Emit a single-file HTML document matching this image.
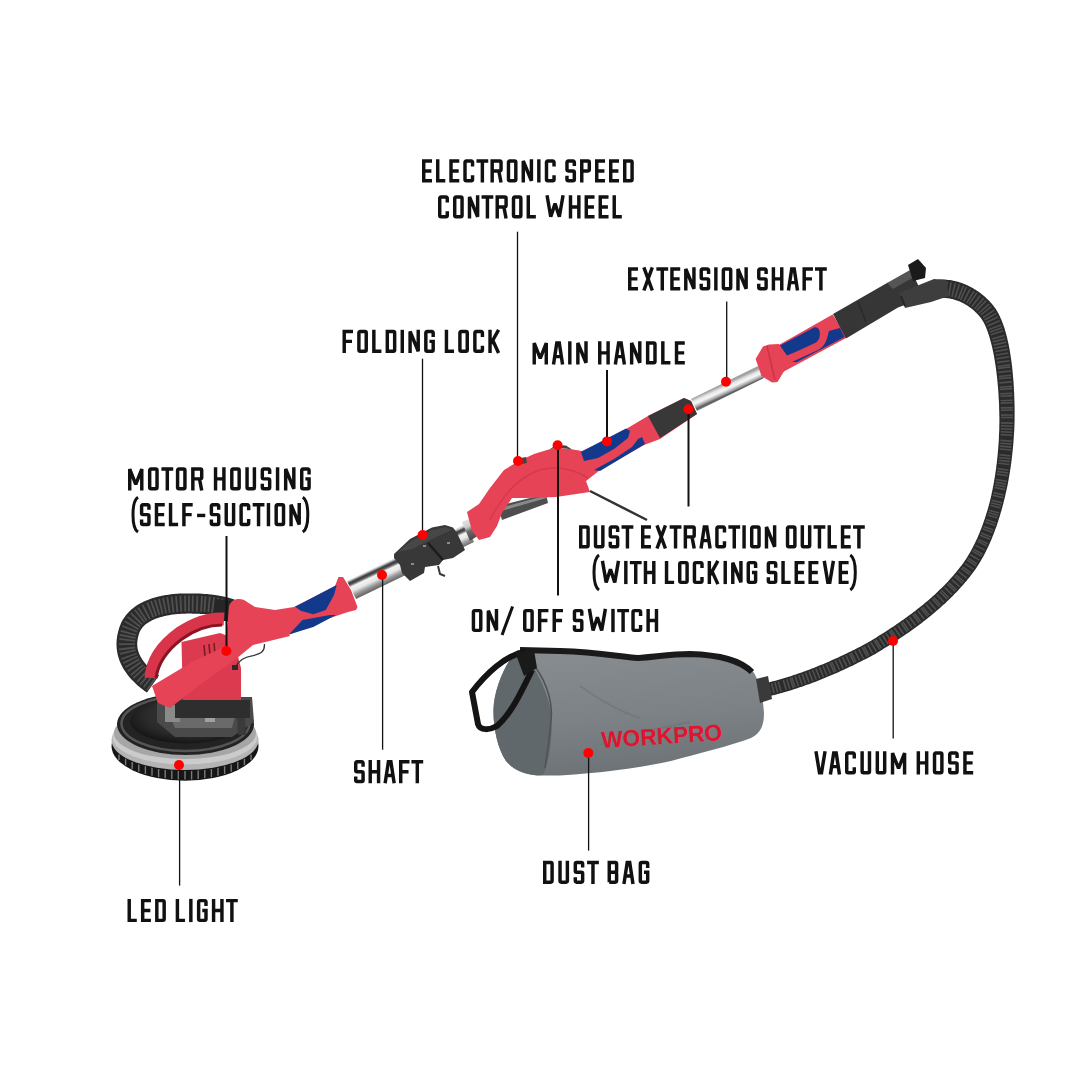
<!DOCTYPE html>
<html><head><meta charset="utf-8"><style>
html,body{margin:0;padding:0;background:#fff;width:1080px;height:1080px;overflow:hidden}
svg{position:absolute;left:0;top:0;display:block}
.lbl path{fill:none;stroke:#111;stroke-width:3.45px;stroke-linecap:butt;stroke-linejoin:miter;stroke-miterlimit:1.5}
.lbl path.thin{stroke-width:3px}
</style></head><body>
<svg width="1080" height="1080" viewBox="0 0 1080 1080">
<defs>
  <linearGradient id="shaftL" gradientUnits="userSpaceOnUse" x1="348" y1="581" x2="356.5" y2="599">
    <stop offset="0" stop-color="#d8d8d8"/>
    <stop offset="0.12" stop-color="#3a3a3a"/>
    <stop offset="0.22" stop-color="#5a5a5a"/>
    <stop offset="0.34" stop-color="#f4f4f4"/>
    <stop offset="0.55" stop-color="#e6e6e6"/>
    <stop offset="0.75" stop-color="#9a9a9a"/>
    <stop offset="1" stop-color="#5e5e5e"/>
  </linearGradient>
  <linearGradient id="shaftM" gradientUnits="userSpaceOnUse" x1="470" y1="519" x2="478" y2="537">
    <stop offset="0" stop-color="#e0e0e0"/>
    <stop offset="0.3" stop-color="#cfcfcf"/>
    <stop offset="0.55" stop-color="#6a6a6a"/>
    <stop offset="1" stop-color="#4a4a4a"/>
  </linearGradient>
  <linearGradient id="shaftE" gradientUnits="userSpaceOnUse" x1="691" y1="399" x2="696.5" y2="411">
    <stop offset="0" stop-color="#a0a0a0"/>
    <stop offset="0.25" stop-color="#e8e8e8"/>
    <stop offset="0.45" stop-color="#f6f6f6"/>
    <stop offset="0.7" stop-color="#a4a4a4"/>
    <stop offset="0.85" stop-color="#5a5a5a"/>
    <stop offset="1" stop-color="#8a8a8a"/>
  </linearGradient>
  <linearGradient id="bagG" gradientUnits="userSpaceOnUse" x1="600" y1="655" x2="610" y2="775">
    <stop offset="0" stop-color="#858b8e"/>
    <stop offset="0.55" stop-color="#7b8184"/>
    <stop offset="1" stop-color="#6c7275"/>
  </linearGradient>
  <radialGradient id="headTop" cx="0.55" cy="0.4" r="0.6">
    <stop offset="0" stop-color="#3e3e3e"/>
    <stop offset="0.7" stop-color="#2a2a2a"/>
    <stop offset="1" stop-color="#161616"/>
  </radialGradient>
</defs>
<g id="product">
  <!-- vacuum hose -->
<path d="M 938.9 298.2 L 939.7 298.1 L 940.4 298.1 L 941.1 298.0 L 941.8 298.0 L 942.6 298.0 L 943.3 297.9 L 944.0 298.0 L 944.7 298.0 L 945.5 298.0 L 946.2 298.1 L 947.0 298.2 L 947.7 298.2 L 948.4 298.3 L 949.2 298.5 L 950.0 298.6 L 950.7 298.7 L 951.5 298.9 L 952.2 299.1 L 953.0 299.3 L 953.7 299.5 L 954.5 299.7 L 955.3 299.9 L 956.0 300.2 L 956.8 300.4 L 957.6 300.7 L 958.3 301.0 L 959.1 301.3 L 959.8 301.6 L 960.6 302.0 L 961.3 302.3 L 962.1 302.7 L 962.8 303.1 L 963.6 303.4 L 964.3 303.8 L 965.0 304.3 L 965.8 304.7 L 966.5 305.1 L 967.2 305.6 L 967.9 306.0 L 968.6 306.5 L 969.3 307.0 L 970.0 307.5 L 970.7 308.0 L 971.4 308.5 L 972.1 309.0 L 972.7 309.6 L 973.4 310.1 L 974.0 310.7 L 974.7 311.3 L 975.3 311.9 L 975.9 312.4 L 976.5 313.1 L 977.1 313.7 L 977.7 314.3 L 978.3 314.9 L 978.9 315.6 L 979.4 316.2 L 980.0 316.9 L 980.5 317.5 L 981.0 318.1 L 981.4 318.7 L 981.9 319.4 L 982.3 320.2 L 982.8 321.0 L 983.3 321.8 L 983.8 322.7 L 984.3 323.6 L 984.7 324.6 L 985.2 325.6 L 985.7 326.7 L 986.2 327.8 L 986.6 328.9 L 987.1 330.1 L 987.5 331.3 L 988.0 332.6 L 988.4 333.9 L 988.9 335.2 L 989.3 336.6 L 989.7 338.0 L 990.1 339.4 L 990.5 340.9 L 991.0 342.4 L 991.3 343.9 L 991.7 345.5 L 992.1 347.1 L 992.5 348.7 L 992.8 350.4 L 993.2 352.1 L 993.5 353.8 L 993.9 355.6 L 994.2 357.3 L 994.5 359.2 L 994.8 361.0 L 995.1 362.9 L 995.4 364.8 L 995.7 366.7 L 996.0 368.7 L 996.2 370.6 L 996.5 372.6 L 996.7 374.7 L 997.0 376.7 L 997.2 378.8 L 997.4 380.9 L 997.6 383.0 L 997.8 385.2 L 998.0 387.4 L 998.2 389.6 L 998.3 391.8 L 998.5 394.0 L 998.6 396.3 L 998.7 398.6 L 998.9 400.9 L 999.0 403.2 L 999.1 405.5 L 999.1 407.9 L 999.2 410.3 L 999.3 412.7 L 999.3 415.1 L 999.4 417.5 L 999.4 419.9 L 999.4 422.8 L 999.3 425.7 L 999.3 428.7 L 999.2 431.6 L 999.0 434.5 L 998.9 437.4 L 998.8 440.3 L 998.6 443.1 L 998.4 446.0 L 998.2 448.8 L 997.9 451.7 L 997.7 454.5 L 997.4 457.3 L 997.1 460.1 L 996.8 462.9 L 996.4 465.6 L 996.1 468.4 L 995.7 471.1 L 995.3 473.8 L 994.9 476.5 L 994.4 479.2 L 994.0 481.9 L 993.5 484.5 L 993.0 487.1 L 992.5 489.7 L 991.9 492.3 L 991.4 494.9 L 990.8 497.4 L 990.2 499.9 L 989.6 502.4 L 988.9 504.9 L 988.3 507.3 L 987.6 509.7 L 986.9 512.1 L 986.1 514.5 L 985.4 516.8 L 984.6 519.2 L 983.8 521.5 L 983.0 523.7 L 982.2 525.9 L 981.4 528.2 L 980.5 530.3 L 979.7 532.5 L 978.8 534.6 L 977.9 536.7 L 977.0 538.7 L 976.0 540.8 L 975.1 542.8 L 974.1 544.7 L 973.2 546.6 L 972.2 548.5 L 971.1 550.4 L 970.1 552.2 L 969.1 554.0 L 968.0 555.8 L 967.0 557.5 L 965.9 559.2 L 964.8 560.8 L 963.7 562.5 L 962.6 564.0 L 961.3 565.7 L 960.0 567.3 L 958.7 569.0 L 957.4 570.6 L 956.1 572.2 L 954.7 573.8 L 953.4 575.4 L 952.0 577.0 L 950.6 578.6 L 949.2 580.1 L 947.8 581.7 L 946.3 583.2 L 944.9 584.7 L 943.4 586.2 L 941.9 587.7 L 940.4 589.1 L 938.9 590.6 L 937.4 592.0 L 935.9 593.5 L 934.3 594.9 L 932.8 596.3 L 931.2 597.7 L 929.7 599.0 L 928.1 600.4 L 926.5 601.7 L 924.9 603.1 L 923.3 604.4 L 921.7 605.7 L 920.1 607.0 L 918.4 608.3 L 916.8 609.6 L 915.2 610.9 L 913.5 612.1 L 911.9 613.4 L 910.2 614.6 L 908.6 615.8 L 906.9 617.1 L 905.2 618.3 L 903.6 619.4 L 901.9 620.6 L 900.2 621.8 L 898.5 623.0 L 896.9 624.1 L 895.2 625.2 L 893.5 626.4 L 891.8 627.5 L 890.1 628.6 L 888.5 629.7 L 886.8 630.8 L 885.1 631.9 L 883.4 633.0 L 881.8 634.0 L 880.1 635.1 L 878.4 636.1 L 876.8 637.2 L 875.1 638.2 L 873.4 639.2 L 871.8 640.2 L 870.1 641.2 L 868.7 642.1 L 867.0 643.0 L 865.1 644.0 L 863.3 645.0 L 861.5 645.9 L 859.7 646.9 L 857.9 647.8 L 856.1 648.7 L 854.3 649.7 L 852.5 650.6 L 850.7 651.5 L 848.9 652.3 L 847.1 653.2 L 845.3 654.1 L 843.5 654.9 L 841.7 655.8 L 840.0 656.6 L 838.2 657.4 L 836.4 658.2 L 834.6 659.0 L 832.9 659.8 L 831.1 660.6 L 829.4 661.4 L 827.6 662.2 L 825.8 662.9 L 824.1 663.7 L 822.3 664.4 L 820.6 665.1 L 818.9 665.8 L 817.1 666.5 L 815.4 667.2 L 813.7 667.9 L 811.9 668.6 L 810.2 669.2 L 808.5 669.9 L 806.7 670.5 L 805.0 671.2 L 803.3 671.8 L 801.6 672.4 L 799.9 673.0 L 798.2 673.6 L 796.5 674.2 L 794.8 674.8 L 793.1 675.3 L 791.4 675.9 L 789.7 676.4 L 788.0 677.0 L 786.3 677.5 L 784.6 678.0 L 782.9 678.5 L 781.2 679.0 L 779.5 679.5 L 777.8 680.0 L 776.2 680.4 L 774.5 680.9 L 772.8 681.3 L 771.1 681.8 L 769.5 682.2 L 767.8 682.6 L 766.1 683.0 L 764.4 683.4 L 767.6 696.6 L 769.3 696.2 L 771.0 695.7 L 772.8 695.3 L 774.5 694.9 L 776.2 694.4 L 778.0 693.9 L 779.7 693.5 L 781.5 693.0 L 783.2 692.5 L 785.0 692.0 L 786.7 691.5 L 788.5 690.9 L 790.2 690.4 L 792.0 689.9 L 793.8 689.3 L 795.5 688.7 L 797.3 688.2 L 799.0 687.6 L 800.8 687.0 L 802.6 686.4 L 804.3 685.8 L 806.1 685.1 L 807.9 684.5 L 809.7 683.9 L 811.4 683.2 L 813.2 682.5 L 815.0 681.9 L 816.8 681.2 L 818.6 680.5 L 820.4 679.8 L 822.2 679.1 L 824.0 678.3 L 825.7 677.6 L 827.5 676.8 L 829.3 676.1 L 831.1 675.3 L 833.0 674.6 L 834.8 673.8 L 836.6 673.0 L 838.4 672.2 L 840.2 671.3 L 842.0 670.5 L 843.8 669.7 L 845.7 668.8 L 847.5 668.0 L 849.3 667.1 L 851.1 666.2 L 853.0 665.4 L 854.8 664.5 L 856.7 663.5 L 858.5 662.6 L 860.3 661.7 L 862.2 660.8 L 864.0 659.8 L 865.9 658.9 L 867.8 657.9 L 869.6 656.9 L 871.5 655.9 L 873.3 654.9 L 875.3 653.9 L 877.2 652.8 L 878.8 651.7 L 880.5 650.7 L 882.2 649.7 L 883.9 648.6 L 885.6 647.6 L 887.3 646.5 L 889.0 645.4 L 890.7 644.3 L 892.4 643.2 L 894.1 642.1 L 895.9 641.0 L 897.6 639.9 L 899.3 638.7 L 901.0 637.6 L 902.7 636.4 L 904.5 635.3 L 906.2 634.1 L 907.9 632.9 L 909.7 631.7 L 911.4 630.5 L 913.1 629.2 L 914.8 628.0 L 916.6 626.7 L 918.3 625.5 L 920.0 624.2 L 921.7 622.9 L 923.4 621.6 L 925.1 620.3 L 926.8 618.9 L 928.5 617.6 L 930.2 616.2 L 931.9 614.8 L 933.5 613.5 L 935.2 612.1 L 936.9 610.6 L 938.5 609.2 L 940.2 607.8 L 941.8 606.3 L 943.4 604.8 L 945.1 603.4 L 946.7 601.8 L 948.3 600.3 L 949.8 598.8 L 951.4 597.2 L 953.0 595.7 L 954.5 594.1 L 956.1 592.5 L 957.6 590.9 L 959.1 589.3 L 960.6 587.6 L 962.1 585.9 L 963.6 584.3 L 965.0 582.6 L 966.5 580.9 L 967.9 579.1 L 969.3 577.4 L 970.7 575.6 L 972.1 573.8 L 973.4 572.0 L 974.7 570.2 L 976.0 568.4 L 977.2 566.6 L 978.4 564.7 L 979.6 562.8 L 980.7 560.9 L 981.8 558.9 L 983.0 556.9 L 984.1 554.9 L 985.2 552.8 L 986.2 550.8 L 987.3 548.6 L 988.3 546.5 L 989.3 544.3 L 990.3 542.1 L 991.2 539.9 L 992.2 537.6 L 993.1 535.3 L 994.0 533.0 L 994.9 530.6 L 995.7 528.3 L 996.6 525.9 L 997.4 523.5 L 998.2 521.0 L 999.0 518.5 L 999.8 516.0 L 1000.5 513.5 L 1001.3 511.0 L 1002.0 508.4 L 1002.7 505.8 L 1003.4 503.2 L 1004.0 500.6 L 1004.7 498.0 L 1005.3 495.3 L 1005.9 492.6 L 1006.5 489.9 L 1007.1 487.2 L 1007.7 484.4 L 1008.2 481.7 L 1008.7 478.9 L 1009.2 476.1 L 1009.7 473.3 L 1010.1 470.4 L 1010.6 467.6 L 1011.0 464.7 L 1011.4 461.8 L 1011.7 458.9 L 1012.1 456.0 L 1012.4 453.1 L 1012.7 450.2 L 1013.0 447.2 L 1013.3 444.2 L 1013.5 441.3 L 1013.7 438.3 L 1013.9 435.3 L 1014.1 432.3 L 1014.3 429.2 L 1014.4 426.2 L 1014.5 423.2 L 1014.6 420.1 L 1014.6 417.5 L 1014.6 415.0 L 1014.6 412.5 L 1014.6 410.0 L 1014.6 407.5 L 1014.5 405.1 L 1014.5 402.7 L 1014.4 400.3 L 1014.3 397.9 L 1014.2 395.5 L 1014.2 393.2 L 1014.0 390.8 L 1013.9 388.5 L 1013.8 386.2 L 1013.6 384.0 L 1013.5 381.7 L 1013.3 379.5 L 1013.1 377.3 L 1012.9 375.1 L 1012.7 373.0 L 1012.5 370.8 L 1012.3 368.7 L 1012.1 366.6 L 1011.8 364.6 L 1011.6 362.5 L 1011.3 360.5 L 1011.0 358.5 L 1010.7 356.5 L 1010.4 354.6 L 1010.1 352.7 L 1009.8 350.8 L 1009.5 348.9 L 1009.1 347.1 L 1008.8 345.3 L 1008.4 343.5 L 1008.0 341.7 L 1007.6 340.0 L 1007.2 338.3 L 1006.8 336.6 L 1006.4 335.0 L 1005.9 333.3 L 1005.5 331.7 L 1005.0 330.2 L 1004.6 328.6 L 1004.1 327.1 L 1003.6 325.7 L 1003.1 324.2 L 1002.5 322.8 L 1002.0 321.4 L 1001.5 320.0 L 1000.9 318.7 L 1000.3 317.4 L 999.7 316.1 L 999.1 314.9 L 998.5 313.6 L 997.8 312.4 L 997.2 311.3 L 996.5 310.2 L 995.8 309.1 L 995.0 307.9 L 994.3 306.9 L 993.6 306.0 L 992.8 305.1 L 992.1 304.2 L 991.4 303.3 L 990.6 302.5 L 989.8 301.6 L 989.1 300.8 L 988.3 300.0 L 987.5 299.2 L 986.6 298.4 L 985.8 297.6 L 985.0 296.9 L 984.1 296.1 L 983.3 295.4 L 982.4 294.7 L 981.5 294.0 L 980.6 293.3 L 979.7 292.6 L 978.8 291.9 L 977.9 291.3 L 976.9 290.7 L 976.0 290.1 L 975.0 289.5 L 974.1 288.9 L 973.1 288.3 L 972.1 287.7 L 971.2 287.2 L 970.2 286.7 L 969.2 286.2 L 968.2 285.7 L 967.2 285.2 L 966.1 284.8 L 965.1 284.3 L 964.1 283.9 L 963.0 283.5 L 962.0 283.1 L 961.0 282.8 L 959.9 282.4 L 958.8 282.1 L 957.8 281.8 L 956.7 281.5 L 955.6 281.2 L 954.6 280.9 L 953.5 280.7 L 952.4 280.5 L 951.3 280.3 L 950.2 280.1 L 949.1 280.0 L 948.0 279.9 L 946.9 279.7 L 945.8 279.7 L 944.7 279.6 L 943.6 279.6 L 942.5 279.5 L 941.4 279.5 L 940.3 279.6 L 939.2 279.6 L 938.1 279.7 L 937.1 279.8 Z" fill="#2b2b2b"/>
<path d="M 939.5 296.1 L 938.3 281.7 M 942.6 295.9 L 942.5 281.6 M 945.6 296.0 L 946.8 281.8 M 948.8 296.4 L 951.0 282.3 M 951.9 297.0 L 955.2 283.1 M 955.1 297.8 L 959.3 284.3 M 958.3 298.9 L 963.4 285.8 M 960.6 299.8 L 966.3 287.0 M 963.7 301.3 L 970.2 288.9 M 966.8 303.0 L 974.0 291.1 M 969.0 304.4 L 976.8 292.9 M 971.9 306.4 L 980.3 295.5 M 974.7 308.7 L 983.7 298.3 M 976.6 310.5 L 986.1 300.6 M 979.1 313.0 L 989.2 303.8 M 980.9 315.0 L 991.4 306.3 M 983.0 317.6 L 994.2 310.1 M 984.5 320.0 L 996.2 313.4 M 986.0 322.8 L 998.0 316.9 M 987.4 326.0 L 999.7 320.8 M 988.8 329.5 L 1001.3 324.9 M 989.8 332.0 L 1002.3 327.7 M 990.6 334.7 L 1003.3 330.7 M 991.9 338.9 L 1004.6 335.5 M 992.7 341.9 L 1005.4 338.7 M 993.5 345.1 L 1006.2 342.1 M 994.3 348.3 L 1007.0 345.7 M 995.0 351.7 L 1007.7 349.3 M 995.7 355.2 L 1008.3 353.0 M 996.3 358.9 L 1009.0 356.8 M 996.9 362.6 L 1009.5 360.8 M 997.5 366.5 L 1010.1 364.8 M 997.7 368.4 L 1010.3 366.9 M 998.3 372.4 L 1010.8 371.0 M 998.7 376.5 L 1011.2 375.3 M 998.9 378.6 L 1011.4 377.5 M 999.4 382.9 L 1011.7 381.9 M 999.7 387.2 L 1012.0 386.4 M 999.9 389.4 L 1012.2 388.6 M 1000.2 393.9 L 1012.4 393.3 M 1000.3 396.2 L 1012.5 395.6 M 1000.6 400.8 L 1012.7 400.3 M 1000.7 403.1 L 1012.8 402.7 M 1000.8 407.9 L 1012.9 407.6 M 1000.9 410.3 L 1012.9 410.0 M 1001.0 415.1 L 1012.9 415.0 M 1001.1 417.5 L 1012.9 417.5 M 1001.0 422.9 L 1012.8 423.1 M 1001.0 425.8 L 1012.7 426.2 M 1000.9 428.7 L 1012.6 429.2 M 1000.8 431.7 L 1012.5 432.2 M 1000.7 434.6 L 1012.3 435.2 M 1000.4 440.4 L 1011.9 441.2 M 1000.2 443.3 L 1011.6 444.1 M 1000.0 446.1 L 1011.4 447.1 M 999.8 449.0 L 1011.1 450.0 M 999.2 454.7 L 1010.5 455.9 M 999.0 457.5 L 1010.1 458.8 M 998.6 460.3 L 1009.8 461.6 M 998.3 463.1 L 1009.4 464.5 M 997.6 468.6 L 1008.6 470.2 M 997.2 471.4 L 1008.1 473.0 M 996.8 474.1 L 1007.7 475.8 M 995.9 479.5 L 1006.7 481.4 M 995.5 482.1 L 1006.1 484.1 M 995.0 484.8 L 1005.6 486.9 M 994.5 487.4 L 1005.0 489.6 M 993.4 492.6 L 1003.8 495.0 M 992.8 495.2 L 1003.2 497.6 M 991.6 500.3 L 1001.9 502.9 M 991.0 502.8 L 1001.2 505.5 M 990.4 505.3 L 1000.5 508.0 M 989.0 510.2 L 999.1 513.1 M 988.3 512.6 L 998.4 515.6 M 987.6 514.9 L 997.6 518.1 M 986.0 519.6 L 996.0 523.0 M 985.2 521.9 L 995.2 525.4 M 983.6 526.5 L 993.5 530.1 M 982.8 528.7 L 992.6 532.5 M 981.1 533.0 L 990.8 537.0 M 980.2 535.2 L 989.9 539.3 M 978.3 539.4 L 987.9 543.7 M 977.4 541.4 L 986.9 545.9 M 975.5 545.4 L 984.9 550.1 M 973.5 549.2 L 982.8 554.2 M 972.4 551.1 L 981.7 556.2 M 970.4 554.8 L 979.4 560.1 M 968.2 558.3 L 977.1 563.9 M 967.1 560.0 L 975.9 565.8 M 964.9 563.3 L 973.5 569.4 M 962.5 566.6 L 970.9 572.9 M 961.2 568.2 L 969.5 574.7 M 958.6 571.5 L 966.7 578.2 M 955.9 574.8 L 963.9 581.6 M 954.5 576.4 L 962.5 583.3 M 951.7 579.6 L 959.5 586.6 M 948.8 582.7 L 956.5 589.9 M 947.4 584.2 L 955.0 591.5 M 944.5 587.2 L 951.9 594.6 M 941.5 590.2 L 948.8 597.7 M 939.9 591.7 L 947.2 599.3 M 936.9 594.5 L 944.0 602.3 M 933.8 597.4 L 940.8 605.2 M 932.2 598.8 L 939.2 606.7 M 929.1 601.5 L 935.9 609.5 M 925.9 604.2 L 932.6 612.3 M 922.6 606.9 L 929.3 615.1 M 921.0 608.2 L 927.6 616.4 M 917.7 610.8 L 924.2 619.1 M 914.4 613.3 L 920.8 621.7 M 912.8 614.6 L 919.1 623.0 M 909.4 617.0 L 915.7 625.5 M 906.1 619.5 L 912.2 628.0 M 902.8 621.8 L 908.8 630.5 M 901.1 623.0 L 907.1 631.7 M 897.7 625.3 L 903.6 634.0 M 894.3 627.6 L 900.2 636.4 M 891.0 629.8 L 896.8 638.6 M 889.3 631.0 L 895.0 639.8 M 885.9 633.1 L 891.6 642.0 M 882.6 635.3 L 888.2 644.2 M 879.2 637.4 L 884.8 646.3 M 875.9 639.5 L 881.4 648.4 M 874.2 640.5 L 879.7 649.4 M 870.9 642.5 L 876.4 651.5 M 867.7 644.4 L 872.6 653.6 M 864.0 646.3 L 868.9 655.6 M 862.2 647.3 L 867.1 656.6 M 858.6 649.1 L 863.4 658.5 M 854.9 651.0 L 859.7 660.4 M 851.3 652.8 L 856.0 662.2 M 849.5 653.7 L 854.2 663.1 M 845.9 655.4 L 850.5 664.9 M 842.4 657.1 L 846.9 666.6 M 838.8 658.8 L 843.2 668.3 M 835.3 660.4 L 839.6 670.0 M 831.7 662.0 L 836.0 671.6 M 829.9 662.8 L 834.2 672.4 M 826.4 664.3 L 830.6 674.0 M 822.9 665.8 L 827.0 675.5 M 819.4 667.2 L 823.4 677.0 M 815.9 668.6 L 819.8 678.4 M 812.5 670.0 L 816.3 679.8 M 809.0 671.3 L 812.7 681.1 M 805.5 672.6 L 809.2 682.5 M 802.1 673.8 L 805.6 683.7 M 798.7 675.0 L 802.1 685.0 M 795.2 676.2 L 798.6 686.2 M 791.8 677.3 L 795.1 687.3 M 790.1 677.9 L 793.3 687.9 M 786.7 678.9 L 789.8 689.0 M 783.3 679.9 L 786.3 690.0 M 778.2 681.4 L 781.1 691.5 M 774.9 682.3 L 777.6 692.5 M 771.5 683.2 L 774.1 693.4 M 768.1 684.1 L 770.7 694.3" stroke="#505050" stroke-width="1.6" fill="none"/>
  <!-- dust bag -->
  <path d="M 518 650 L 560 649 C 600 650 620 655 638 656 C 655 655 670 652 690 652 C 720 653 740 657 751 669 C 758 676 763 695 764 713 C 764 725 761 733 751 738 C 730 746 700 753 671 761 C 640 768 600 773 560 775.5 L 543 775.5 C 530 776 515 772 506 761 C 497 748 493 725 493.5 709 C 494 690 505 662 518 650 Z" fill="url(#bagG)"/>
  <path d="M 518 650 C 530 655 548 690 551 712 C 553 735 550 760 543 775 C 530 776 515 772 506 761 C 497 748 493 725 493.5 709 C 494 690 505 662 518 650 Z" fill="#61686b"/>
  <path d="M 536 668 C 548 685 553 705 551 720 C 549 745 546 760 545 768" fill="none" stroke="#4c5256" stroke-width="1.5"/>
  <path d="M 580 686 C 600 700 620 712 640 718 M 600 745 C 625 735 650 730 690 722" fill="none" stroke="#6e7477" stroke-width="2" opacity="0.6"/>
  <path d="M 520 650 L 560 651 C 600 652 620 657 638 658 C 655 657 670 654 690 654 C 720 655 740 660 752 672" stroke="#1a1a1a" stroke-width="6" fill="none"/>
  <!-- strap -->
  <path d="M 525 652 C 505 655 485 675 472 692 L 478 724 C 480 731 490 730 497 726 C 510 715 520 695 532 670" fill="none" stroke="#141414" stroke-width="6" stroke-linejoin="round"/>
  <path d="M 515 652 L 534 650 L 537 668 L 524 676 Z" fill="#1a1a1a"/>
  <text x="602" y="748" transform="rotate(-3.8 602 748)" font-family="Liberation Sans" font-weight="bold" font-size="23" fill="#e0142f" textLength="121" lengthAdjust="spacingAndGlyphs">WORKPRO</text>
  <!-- hose connector at bag -->
  <path d="M 756 679 L 768 676 L 772 699 L 760 703 Z" fill="#3a3a3a"/>

  <!-- sanding head -->
  <ellipse cx="185" cy="745.9" rx="73.5" ry="34.8" fill="#161616"/>
  <path d="M 119.0 754.4 L 119.0 760.0 M 125.6 758.8 L 125.6 765.2 M 132.2 762.0 L 132.2 768.9 M 138.8 764.4 L 138.8 771.8 M 145.4 766.3 L 145.4 774.0 M 152.0 767.8 L 152.0 775.8 M 158.6 769.0 L 158.6 777.2 M 165.2 769.9 L 165.2 778.2 M 171.8 770.5 L 171.8 778.9 M 178.4 770.9 L 178.4 779.4 M 185.0 771.0 L 185.0 779.5 M 191.6 770.9 L 191.6 779.4 M 198.2 770.5 L 198.2 778.9 M 204.8 769.9 L 204.8 778.2 M 211.4 769.0 L 211.4 777.2 M 218.0 767.8 L 218.0 775.8 M 224.6 766.3 L 224.6 774.0 M 231.2 764.4 L 231.2 771.8 M 237.8 762.0 L 237.8 768.9 M 244.4 758.8 L 244.4 765.2 M 251.0 754.4 L 251.0 760.0" stroke="#7a7a7a" stroke-width="1.4"/>
  <ellipse cx="185" cy="740.3" rx="73.5" ry="29.7" fill="#b4b4b4"/>
  <ellipse cx="185" cy="737" rx="72.5" ry="27.5" fill="#cbcbcb"/>
  <ellipse cx="185" cy="733" rx="71" ry="26" fill="#a6a6a6"/>
  <ellipse cx="185.5" cy="724.25" rx="68.5" ry="30.75" fill="#232323"/>
  <ellipse cx="185.5" cy="723.5" rx="64" ry="27.5" fill="none" stroke="#555" stroke-width="2.5"/>
  <ellipse cx="187" cy="721" rx="57" ry="22.5" fill="url(#headTop)"/>
  <path d="M 157 697 L 252 697 L 254 722 L 232 737 L 175 737 L 157 722 Z" fill="#4a4a4a"/>
  <path d="M 170 716 L 235 716 L 232 728 L 175 728 Z" fill="#6a6a6a"/>
  <path d="M 165 705 L 180 705 L 180 722 L 165 722 Z" fill="#8a8a8a"/>
  <path d="M 205 715 L 215 715 L 215 722 L 205 722 Z" fill="#a0a0a0"/>
  <path d="M 236 700 L 244 700 L 246 735 L 238 735 Z" fill="#3a3a3a"/>

  <!-- hose loop -->
<path d="M 159.0 675.4 L 157.9 674.6 L 156.8 673.9 L 155.9 673.2 L 154.9 672.5 L 154.0 671.7 L 153.1 671.0 L 152.2 670.3 L 151.4 669.6 L 150.6 668.9 L 149.8 668.2 L 149.0 667.5 L 148.3 666.8 L 147.6 666.1 L 147.0 665.4 L 146.3 664.7 L 145.7 664.0 L 145.1 663.3 L 144.5 662.6 L 144.0 661.9 L 143.5 661.2 L 143.0 660.6 L 142.5 659.9 L 142.1 659.2 L 141.7 658.6 L 141.3 657.9 L 140.9 657.3 L 140.5 656.6 L 140.2 656.0 L 139.9 655.3 L 139.6 654.7 L 139.3 654.0 L 139.0 653.4 L 138.8 652.8 L 138.6 652.1 L 138.4 651.5 L 138.2 650.9 L 138.0 650.3 L 137.9 649.7 L 137.7 649.0 L 137.6 648.4 L 137.5 647.8 L 137.4 647.2 L 137.4 646.6 L 137.3 646.0 L 137.3 645.3 L 137.2 644.7 L 137.2 644.1 L 137.2 643.5 L 137.2 642.9 L 137.3 642.3 L 137.3 641.6 L 137.4 641.0 L 137.5 640.4 L 137.6 639.8 L 137.7 639.1 L 137.8 638.5 L 137.9 637.8 L 138.1 637.2 L 138.2 636.6 L 138.5 635.7 L 138.7 634.7 L 138.9 634.0 L 139.1 633.4 L 139.4 632.8 L 139.6 632.1 L 139.9 631.5 L 140.2 631.0 L 140.5 630.4 L 140.8 629.8 L 141.2 629.3 L 141.6 628.7 L 142.0 628.2 L 142.4 627.6 L 142.8 627.1 L 143.3 626.6 L 143.8 626.1 L 144.3 625.6 L 144.9 625.1 L 145.4 624.6 L 146.0 624.1 L 146.7 623.6 L 147.3 623.2 L 148.0 622.7 L 148.7 622.3 L 149.4 621.8 L 150.2 621.4 L 150.9 620.9 L 151.7 620.5 L 152.6 620.1 L 153.4 619.7 L 154.3 619.3 L 155.2 619.0 L 156.1 618.6 L 157.1 618.3 L 158.1 617.9 L 159.1 617.6 L 160.1 617.3 L 161.1 617.0 L 162.2 616.7 L 163.2 616.4 L 164.3 616.1 L 165.5 615.9 L 166.6 615.6 L 167.7 615.4 L 168.9 615.2 L 170.1 615.0 L 171.3 614.8 L 172.5 614.6 L 173.7 614.5 L 175.0 614.3 L 176.2 614.2 L 177.5 614.1 L 178.8 614.0 L 180.0 613.9 L 181.4 613.8 L 182.7 613.8 L 184.0 613.7 L 185.3 613.7 L 186.7 613.6 L 188.0 613.6 L 188.9 613.6 L 189.8 613.6 L 190.7 613.6 L 191.6 613.6 L 192.5 613.7 L 193.4 613.7 L 194.3 613.7 L 195.1 613.7 L 196.0 613.7 L 196.8 613.7 L 197.7 613.8 L 198.5 613.8 L 199.4 613.8 L 200.2 613.9 L 201.0 613.9 L 201.8 614.0 L 202.6 614.0 L 203.4 614.1 L 204.2 614.1 L 205.0 614.2 L 205.7 614.2 L 206.5 614.3 L 207.3 614.4 L 208.0 614.4 L 208.8 614.5 L 209.5 614.6 L 210.3 614.7 L 211.0 614.8 L 211.7 614.9 L 212.5 615.0 L 213.2 615.1 L 213.9 615.2 L 214.6 615.3 L 215.3 615.4 L 216.0 615.5 L 216.7 615.6 L 217.4 615.8 L 218.0 615.9 L 218.7 616.0 L 219.4 616.2 L 220.0 616.3 L 220.7 616.5 L 221.4 616.7 L 222.0 616.8 L 222.7 617.0 L 223.3 617.2 L 224.0 617.3 L 224.6 617.5 L 225.2 617.7 L 225.9 617.9 L 226.5 618.1 L 227.1 618.3 L 227.7 618.5 L 228.4 618.8 L 229.0 619.0 L 229.6 619.2 L 230.2 619.4 L 230.8 619.7 L 231.5 619.9 L 232.1 620.2 L 239.9 601.8 L 239.1 601.5 L 238.4 601.1 L 237.6 600.8 L 236.8 600.5 L 236.0 600.2 L 235.2 599.9 L 234.4 599.6 L 233.6 599.3 L 232.7 599.1 L 231.9 598.8 L 231.1 598.6 L 230.3 598.3 L 229.5 598.1 L 228.7 597.8 L 227.9 597.6 L 227.0 597.4 L 226.2 597.2 L 225.4 597.0 L 224.6 596.8 L 223.7 596.6 L 222.9 596.4 L 222.1 596.2 L 221.2 596.1 L 220.4 595.9 L 219.5 595.7 L 218.7 595.6 L 217.9 595.4 L 217.0 595.3 L 216.2 595.2 L 215.3 595.0 L 214.4 594.9 L 213.6 594.8 L 212.7 594.7 L 211.8 594.6 L 211.0 594.5 L 210.1 594.4 L 209.2 594.3 L 208.4 594.2 L 207.5 594.1 L 206.6 594.1 L 205.7 594.0 L 204.8 593.9 L 203.9 593.9 L 203.0 593.8 L 202.1 593.7 L 201.2 593.7 L 200.3 593.6 L 199.4 593.6 L 198.4 593.6 L 197.5 593.5 L 196.6 593.5 L 195.6 593.5 L 194.7 593.5 L 193.8 593.4 L 192.8 593.4 L 191.9 593.4 L 190.9 593.4 L 189.9 593.4 L 189.0 593.4 L 188.0 593.4 L 186.5 593.4 L 184.9 593.4 L 183.4 593.4 L 181.8 593.5 L 180.3 593.5 L 178.8 593.6 L 177.3 593.7 L 175.8 593.8 L 174.3 594.0 L 172.8 594.1 L 171.3 594.3 L 169.8 594.5 L 168.4 594.7 L 166.9 594.9 L 165.4 595.1 L 164.0 595.4 L 162.6 595.6 L 161.2 595.9 L 159.7 596.2 L 158.4 596.6 L 157.0 596.9 L 155.6 597.3 L 154.2 597.7 L 152.9 598.1 L 151.5 598.5 L 150.2 599.0 L 148.9 599.5 L 147.6 600.0 L 146.3 600.5 L 145.1 601.0 L 143.8 601.6 L 142.6 602.2 L 141.4 602.8 L 140.2 603.5 L 139.0 604.1 L 137.8 604.8 L 136.7 605.6 L 135.6 606.3 L 134.5 607.1 L 133.4 607.9 L 132.3 608.8 L 131.3 609.6 L 130.3 610.6 L 129.3 611.5 L 128.4 612.5 L 127.4 613.5 L 126.5 614.5 L 125.7 615.6 L 124.9 616.7 L 124.1 617.8 L 123.3 618.9 L 122.6 620.1 L 121.9 621.3 L 121.3 622.6 L 120.7 623.9 L 120.2 625.2 L 119.7 626.5 L 119.2 627.8 L 118.8 629.2 L 118.5 630.3 L 118.3 631.1 L 118.0 632.2 L 117.8 633.3 L 117.5 634.3 L 117.3 635.4 L 117.1 636.5 L 117.0 637.6 L 116.8 638.7 L 116.7 639.8 L 116.6 640.9 L 116.6 642.0 L 116.5 643.1 L 116.5 644.2 L 116.5 645.3 L 116.6 646.4 L 116.6 647.6 L 116.7 648.7 L 116.9 649.8 L 117.0 650.9 L 117.2 652.0 L 117.4 653.1 L 117.6 654.3 L 117.9 655.4 L 118.2 656.5 L 118.5 657.6 L 118.9 658.7 L 119.2 659.8 L 119.6 660.9 L 120.1 662.0 L 120.5 663.1 L 121.0 664.2 L 121.6 665.2 L 122.1 666.3 L 122.7 667.4 L 123.3 668.4 L 123.9 669.5 L 124.6 670.5 L 125.3 671.6 L 126.0 672.6 L 126.7 673.6 L 127.5 674.7 L 128.3 675.7 L 129.1 676.7 L 129.9 677.7 L 130.8 678.7 L 131.7 679.7 L 132.6 680.6 L 133.6 681.6 L 134.6 682.6 L 135.6 683.5 L 136.6 684.5 L 137.6 685.4 L 138.7 686.3 L 139.8 687.3 L 141.0 688.2 L 142.2 689.1 L 143.3 690.0 L 144.6 690.9 L 145.8 691.8 L 147.0 692.6 Z" fill="#2b2b2b"/>
<path d="M 156.5 676.5 L 147.1 689.9 M 153.5 674.3 L 143.6 687.3 M 150.7 672.1 L 140.2 684.6 M 148.2 669.9 L 137.1 681.8 M 145.3 666.9 L 133.4 678.1 M 143.3 664.8 L 130.8 675.2 M 141.1 661.9 L 127.8 671.3 M 139.3 659.1 L 125.3 667.3 M 137.8 656.3 L 123.1 663.2 M 136.7 653.5 L 121.4 659.0 M 135.7 650.2 L 119.9 653.8 M 135.2 647.5 L 119.1 649.5 M 134.9 644.1 L 118.8 644.2 M 135.1 640.8 L 119.1 638.9 M 135.6 638.0 L 119.7 634.8 M 136.3 635.1 L 120.7 630.9 M 137.3 631.9 L 122.3 626.0 M 138.5 629.3 L 124.6 621.3 M 140.2 626.8 L 127.5 616.9 M 142.2 624.5 L 130.9 613.1 M 144.6 622.3 L 134.8 609.7 M 146.7 620.8 L 137.9 607.4 M 149.9 619.0 L 142.4 604.8 M 153.4 617.3 L 147.2 602.6 M 156.3 616.1 L 151.0 601.1 M 159.4 615.1 L 154.9 599.8 M 162.7 614.2 L 158.9 598.7 M 166.1 613.4 L 163.0 597.8 M 169.7 612.8 L 167.2 597.1 M 173.5 612.3 L 171.6 596.5 M 177.3 611.9 L 176.0 596.1 M 181.2 611.6 L 180.4 595.8 M 185.3 611.4 L 185.0 595.6 M 188.9 611.4 L 189.0 595.6 M 192.6 611.4 L 192.8 595.6 M 196.9 611.5 L 197.4 595.8 M 201.1 611.7 L 202.0 596.0 M 204.4 611.9 L 205.5 596.2 M 208.3 612.2 L 209.9 596.6 M 212.0 612.7 L 214.1 597.1 M 215.7 613.2 L 218.3 597.8 M 219.2 613.9 L 222.4 598.6 M 222.6 614.7 L 226.5 599.5 M 226.5 615.8 L 231.3 600.9 M 229.8 616.9 L 235.2 602.3" stroke="#505050" stroke-width="1.8" fill="none"/>
  <!-- red bracket -->
  <path d="M 215 599 L 233 601 L 234 622 L 214 620 Z" fill="#262626"/>
  <path d="M 151 678 C 152 661 162 646 180 633 C 195 623 208 618 224 619" fill="none" stroke="#d8354a" stroke-width="13"/>
  <path d="M 156 678 C 158 664 166 651 182 639 C 196 629 208 625 222 625" fill="none" stroke="#8a1422" stroke-width="3"/>
  <!-- motor body -->
  <path d="M 181.5 642 L 220 633 L 233 638 L 241 668 L 241 704 L 183 704 Z" fill="#dc3a4e"/>
  <path d="M 204 645 L 206 668 M 209 644 L 211 667 M 214 643 L 216 666" stroke="#7a1a26" stroke-width="1.6"/>
  <rect x="175" y="700" width="75" height="18" fill="#2e2e2e"/>
  <!-- red arm -->
  <path d="M 152 686 L 192 662 L 232 643 L 282 623 L 290 636 L 253 645 L 231 663 L 205 681 L 170 708 L 158 703 Z" fill="#e64357"/>
  <!-- lower handle -->
  <path d="M 229 606 C 232 599 238 598 244 600 L 255 607 L 275 610 L 294 607 L 310 599 L 335 586 L 338.5 577 L 343 577 L 351 590 L 357.5 607 L 356 610 L 348 612 L 330 618 L 310 626 L 291 634 L 280 636 L 264 639 L 249 645 L 231 663 L 226 640 Z" fill="#e64357"/>
  <path d="M 295 606.7 L 336.7 585 L 334 595 L 325.8 610 L 313.3 614.2 L 300.8 610.8 Z" fill="#12398c"/>
  <path d="M 289 634.5 L 302.5 620 L 330 615 L 336 615 L 313.3 627 Z" fill="#12398c"/>
  <!-- cable -->
  <path d="M 236 667 C 238 660 245 657 253 655.6 C 260 654 265 652 264.4 644" fill="none" stroke="#333" stroke-width="1.3"/>
  <rect x="232" y="665" width="6" height="5" fill="#2a2a2a"/>

  <!-- lower shaft -->
  <path d="M 347 581 L 466 524 L 474 542 L 356 599 Z" fill="url(#shaftL)"/>
  <!-- main handle inner shaft -->
  <path d="M 462 522 L 490 510 L 495 524 L 470 541 Z" fill="url(#shaftM)"/>
  <path d="M 498 506 L 546 494 L 548 503 L 502 520 Z" fill="#4e4e4e"/>
  <path d="M 500 508 L 546 495.5 L 546.5 498 L 501 511 Z" fill="#8a8a8a"/>
  <!-- folding lock -->
  <path d="M 394 554 L 410 539 L 432 527.5 L 445 525 L 453 527.5 L 457 533 L 465 550 L 453 558 L 443 560 L 439 565 L 425 567 L 424 573 L 410 581 L 402 573 L 400 565 L 394 558 Z" fill="#383838"/>
  <path d="M 398 552 L 411 541 L 432 530 L 446 527 L 452 530 L 436 537 L 412 549 Z" fill="#474747"/>
  <path d="M 428 543 L 443 560" stroke="#1c1c1c" stroke-width="2.5"/>
  <rect x="423" y="545" width="3" height="2" fill="#8a8a8a"/>
  <rect x="447" y="542" width="3" height="2" fill="#8a8a8a"/>
  <rect x="411" y="563" width="3" height="2" fill="#8a8a8a"/>
  <path d="M 438 566 L 440 574 L 445 576" fill="none" stroke="#3a3a3a" stroke-width="2"/>

  <!-- main handle body -->
  <path d="M 467 512 L 479 504 L 490 488 L 504 470 L 519 461 L 534 454 L 552 448.5 L 567 448.5 L 582 451 L 601 442 L 626 429 L 648 416 L 684 398 L 691 401 L 697 414 L 660 439 L 644 445 L 600 470 L 586 481 L 590 492 L 556 497 L 527 498 L 512 498 L 502 513 L 497 526 L 490 537 L 479 540 L 472 531 Z" fill="#e64357"/>
  <path d="M 581 452 L 601 441.5 L 626 428.5 L 630 431 L 628 438 L 614 449 L 598 458 L 584 461 Z" fill="#12398c"/>
  <path d="M 594 470 L 614 459 L 632 447 L 638 439 L 642 437 L 645 444 L 600 471 Z" fill="#12398c"/>
  <path d="M 648 416 L 684 398 L 691 401 L 697 414 L 660 438 Z" fill="#383838"/>
  <path d="M 550 449 L 556 445 L 566 445.5 L 572 449.5 L 566 448.5 L 556 448 Z" fill="#444"/>
  <path d="M 521 458 L 526 457 L 527 463 L 522 464 Z" fill="#444"/>
  <path d="M 490 520 C 500 500 515 478 540 470 C 560 465 575 470 588 478" fill="none" stroke="#cf3449" stroke-width="1.5" opacity="0.7"/>
  <!-- trigger rod -->
  <path d="M 590 491 L 647 520" stroke="#333" stroke-width="2.5"/>

  <!-- extension shaft -->
  <path d="M 691 399 L 758 366 L 764 378 L 697 411 Z" fill="url(#shaftE)"/>

  <!-- upper grip -->
  <path d="M 777 346 L 832.6 314.5 L 847 337.5 L 783 372 Z" fill="#e64357"/>
  <path d="M 755.6 359 L 763 346.5 L 769 344.5 L 779 344 L 786 368 L 777.5 382 L 772 382.5 L 761.5 376 Z" fill="#e64357"/>
  <path d="M 767 346 L 775 380" stroke="#cc3448" stroke-width="1.6"/>
  <path d="M 780 345.5 L 800 335 L 814 327.5 C 821 325.5 822 339 816 342.5 L 800 350 L 787 355.5 Z" fill="#12398c"/>
  <path d="M 792 362 L 818 350 C 826 346 827 338 829 331 L 840 328 L 844.5 337 L 797 362 Z" fill="#12398c"/>
  <path d="M 833 314 L 887 283 L 913 274 L 924 298 L 898 307.5 L 846 338.5 Z" fill="#363636"/>
  <path d="M 858 302 L 866 322" stroke="#2a2a2a" stroke-width="1.5"/>
  <path d="M 899 293 L 934 279 L 946 280 L 949 296 L 931 302 L 905 308 Z" fill="#3e3e3e"/>
  <path d="M 901 296 L 905 306" stroke="#242424" stroke-width="1.8"/>
  <path d="M 887 283 L 910 270 L 914 277 L 893 289 Z" fill="#555"/>
  <path d="M 908 265 L 918 259 L 926 268 L 925 278 L 913 281 Z" fill="#1a1a1a"/>
</g>

<g class="leaders">
<line x1="517.5" y1="231.7" x2="517.5" y2="461" stroke="#111" stroke-width="1.3"/>
<line x1="422.5" y1="358.7" x2="422.5" y2="535" stroke="#111" stroke-width="1.3"/>
<line x1="607" y1="370" x2="607" y2="441" stroke="#111" stroke-width="2"/>
<line x1="726.7" y1="301.4" x2="726.7" y2="382" stroke="#111" stroke-width="1.3"/>
<line x1="226.5" y1="536" x2="226.5" y2="651" stroke="#111" stroke-width="2"/>
<line x1="688.5" y1="409" x2="688.5" y2="506.5" stroke="#111" stroke-width="2"/>
<line x1="558" y1="445" x2="558" y2="595.6" stroke="#111" stroke-width="2"/>
<line x1="382.6" y1="575" x2="382.6" y2="749.7" stroke="#111" stroke-width="1.3"/>
<line x1="893.2" y1="641" x2="893.2" y2="738.5" stroke="#111" stroke-width="1.3"/>
<line x1="588.6" y1="753" x2="588.6" y2="850.6" stroke="#111" stroke-width="1.3"/>
<line x1="179.6" y1="765" x2="179.6" y2="885.6" stroke="#111" stroke-width="1.3"/>
</g>
<g class="dots">
<circle cx="518" cy="461" r="5" fill="#f00"/>
<circle cx="422.6" cy="535" r="5" fill="#f00"/>
<circle cx="607" cy="441.4" r="5" fill="#f00"/>
<circle cx="726" cy="381.8" r="5" fill="#f00"/>
<circle cx="226.3" cy="651" r="5" fill="#f00"/>
<circle cx="688.5" cy="409.3" r="5" fill="#f00"/>
<circle cx="557.6" cy="445.3" r="5" fill="#f00"/>
<circle cx="382" cy="575" r="5" fill="#f00"/>
<circle cx="893" cy="641" r="5" fill="#f00"/>
<circle cx="588.3" cy="753" r="5" fill="#f00"/>
<circle cx="179" cy="765" r="5" fill="#f00"/>
</g>
<g class="lbl">
<path transform="translate(422.00,159.30)" d="M 10.00 1.73 L 1.73 1.73 L 1.73 21.47 L 10.00 21.47 M 1.73 11.60 L 9.40 11.60"/>
<path transform="translate(435.99,159.30)" d="M 1.73 0.00 L 1.73 21.47 L 9.30 21.47"/>
<path transform="translate(449.28,159.30)" d="M 10.00 1.73 L 1.73 1.73 L 1.73 21.47 L 10.00 21.47 M 1.73 11.60 L 9.40 11.60"/>
<path transform="translate(463.27,159.30)" d="M 9.28 7.19 L 9.28 3.03 Q 9.28 1.73 7.98 1.73 L 3.03 1.73 Q 1.73 1.73 1.73 3.03 L 1.73 20.17 Q 1.73 21.47 3.03 21.47 L 7.98 21.47 Q 9.28 21.47 9.28 20.17 L 9.28 16.01"/>
<path transform="translate(476.46,159.30)" d="M 0.00 1.73 L 11.80 1.73 M 5.90 1.73 L 5.90 23.20"/>
<path transform="translate(490.45,159.30)" d="M 1.73 23.20 L 1.73 1.73 L 9.28 1.73 Q 10.58 1.73 10.58 3.03 L 10.58 10.30 Q 10.58 11.60 9.28 11.60 L 1.73 11.60 M 8.38 11.60 L 10.58 23.20"/>
<path transform="translate(506.74,159.30)" d="M 3.03 1.73 L 7.78 1.73 Q 9.08 1.73 9.08 3.03 L 9.08 20.17 Q 9.08 21.47 7.78 21.47 L 3.03 21.47 Q 1.73 21.47 1.73 20.17 L 1.73 3.03 Q 1.73 1.73 3.03 1.73 Z"/>
<path transform="translate(521.53,159.30)" d="M 1.73 23.20 L 1.73 1.73 L 9.88 21.47 L 9.88 0.00"/>
<path transform="translate(537.12,159.30)" d="M 1.73 0.00 L 1.73 23.20"/>
<path transform="translate(544.76,159.30)" d="M 9.28 7.19 L 9.28 3.03 Q 9.28 1.73 7.98 1.73 L 3.03 1.73 Q 1.73 1.73 1.73 3.03 L 1.73 20.17 Q 1.73 21.47 3.03 21.47 L 7.98 21.47 Q 9.28 21.47 9.28 20.17 L 9.28 16.01"/>
<path transform="translate(565.24,159.30)" d="M 9.08 6.73 L 9.08 3.03 Q 9.08 1.73 7.78 1.73 L 3.03 1.73 Q 1.73 1.73 1.73 3.03 L 1.73 10.30 Q 1.73 11.60 3.03 11.60 L 7.78 11.60 Q 9.08 11.60 9.08 12.90 L 9.08 20.17 Q 9.08 21.47 7.78 21.47 L 3.03 21.47 Q 1.73 21.47 1.73 20.17 L 1.73 16.47"/>
<path transform="translate(580.03,159.30)" d="M 1.73 23.20 L 1.73 1.73 L 7.98 1.73 Q 9.28 1.73 9.28 3.03 L 9.28 10.30 Q 9.28 11.60 7.98 11.60 L 1.73 11.60"/>
<path transform="translate(595.02,159.30)" d="M 10.00 1.73 L 1.73 1.73 L 1.73 21.47 L 10.00 21.47 M 1.73 11.60 L 9.40 11.60"/>
<path transform="translate(609.01,159.30)" d="M 10.00 1.73 L 1.73 1.73 L 1.73 21.47 L 10.00 21.47 M 1.73 11.60 L 9.40 11.60"/>
<path transform="translate(623.00,159.30)" d="M 1.73 1.73 L 7.78 1.73 Q 9.08 1.73 9.08 3.03 L 9.08 20.17 Q 9.08 21.47 7.78 21.47 L 1.73 21.47 Z"/>
<path transform="translate(438.00,195.30)" d="M 9.28 7.19 L 9.28 3.03 Q 9.28 1.73 7.98 1.73 L 3.03 1.73 Q 1.73 1.73 1.73 3.03 L 1.73 20.17 Q 1.73 21.47 3.03 21.47 L 7.98 21.47 Q 9.28 21.47 9.28 20.17 L 9.28 16.01"/>
<path transform="translate(452.98,195.30)" d="M 3.03 1.73 L 7.78 1.73 Q 9.08 1.73 9.08 3.03 L 9.08 20.17 Q 9.08 21.47 7.78 21.47 L 3.03 21.47 Q 1.73 21.47 1.73 20.17 L 1.73 3.03 Q 1.73 1.73 3.03 1.73 Z"/>
<path transform="translate(467.75,195.30)" d="M 1.73 23.20 L 1.73 1.73 L 9.88 21.47 L 9.88 0.00"/>
<path transform="translate(481.52,195.30)" d="M 0.00 1.73 L 11.80 1.73 M 5.90 1.73 L 5.90 23.20"/>
<path transform="translate(495.50,195.30)" d="M 1.73 23.20 L 1.73 1.73 L 9.28 1.73 Q 10.58 1.73 10.58 3.03 L 10.58 10.30 Q 10.58 11.60 9.28 11.60 L 1.73 11.60 M 8.38 11.60 L 10.58 23.20"/>
<path transform="translate(511.77,195.30)" d="M 3.03 1.73 L 7.78 1.73 Q 9.08 1.73 9.08 3.03 L 9.08 20.17 Q 9.08 21.47 7.78 21.47 L 3.03 21.47 Q 1.73 21.47 1.73 20.17 L 1.73 3.03 Q 1.73 1.73 3.03 1.73 Z"/>
<path transform="translate(526.55,195.30)" d="M 1.73 0.00 L 1.73 21.47 L 9.30 21.47"/>
<path transform="translate(545.30,195.30)" d="M 1.73 0.00 L 5.46 21.47 L 9.75 8.35 L 14.04 21.47 L 17.77 0.00"/>
<path transform="translate(568.77,195.30)" d="M 1.73 0.00 L 1.73 23.20 M 10.08 0.00 L 10.08 23.20 M 1.73 11.60 L 10.08 11.60"/>
<path transform="translate(584.55,195.30)" d="M 10.00 1.73 L 1.73 1.73 L 1.73 21.47 L 10.00 21.47 M 1.73 11.60 L 9.40 11.60"/>
<path transform="translate(598.52,195.30)" d="M 10.00 1.73 L 1.73 1.73 L 1.73 21.47 L 10.00 21.47 M 1.73 11.60 L 9.40 11.60"/>
<path transform="translate(612.50,195.30)" d="M 1.73 0.00 L 1.73 21.47 L 9.30 21.47"/>
<path transform="translate(628.00,267.30)" d="M 10.00 1.73 L 1.73 1.73 L 1.73 21.47 L 10.00 21.47 M 1.73 11.60 L 9.40 11.60"/>
<path transform="translate(641.84,267.30)" d="M 2.02 0.00 L 10.47 23.20 M 10.47 0.00 L 2.02 23.20"/>
<path transform="translate(656.38,267.30)" d="M 0.00 1.73 L 11.80 1.73 M 5.90 1.73 L 5.90 23.20"/>
<path transform="translate(670.22,267.30)" d="M 10.00 1.73 L 1.73 1.73 L 1.73 21.47 L 10.00 21.47 M 1.73 11.60 L 9.40 11.60"/>
<path transform="translate(684.06,267.30)" d="M 1.73 23.20 L 1.73 1.73 L 9.88 21.47 L 9.88 0.00"/>
<path transform="translate(699.50,267.30)" d="M 9.08 6.73 L 9.08 3.03 Q 9.08 1.73 7.78 1.73 L 3.03 1.73 Q 1.73 1.73 1.73 3.03 L 1.73 10.30 Q 1.73 11.60 3.03 11.60 L 7.78 11.60 Q 9.08 11.60 9.08 12.90 L 9.08 20.17 Q 9.08 21.47 7.78 21.47 L 3.03 21.47 Q 1.73 21.47 1.73 20.17 L 1.73 16.47"/>
<path transform="translate(714.14,267.30)" d="M 1.73 0.00 L 1.73 23.20"/>
<path transform="translate(721.62,267.30)" d="M 3.03 1.73 L 7.78 1.73 Q 9.08 1.73 9.08 3.03 L 9.08 20.17 Q 9.08 21.47 7.78 21.47 L 3.03 21.47 Q 1.73 21.47 1.73 20.17 L 1.73 3.03 Q 1.73 1.73 3.03 1.73 Z"/>
<path transform="translate(736.26,267.30)" d="M 1.73 23.20 L 1.73 1.73 L 9.88 21.47 L 9.88 0.00"/>
<path transform="translate(757.04,267.30)" d="M 9.08 6.73 L 9.08 3.03 Q 9.08 1.73 7.78 1.73 L 3.03 1.73 Q 1.73 1.73 1.73 3.03 L 1.73 10.30 Q 1.73 11.60 3.03 11.60 L 7.78 11.60 Q 9.08 11.60 9.08 12.90 L 9.08 20.17 Q 9.08 21.47 7.78 21.47 L 3.03 21.47 Q 1.73 21.47 1.73 20.17 L 1.73 16.47"/>
<path transform="translate(771.68,267.30)" d="M 1.73 0.00 L 1.73 23.20 M 10.08 0.00 L 10.08 23.20 M 1.73 11.60 L 10.08 11.60"/>
<path transform="translate(786.72,267.30)" d="M 1.73 23.20 L 5.00 1.73 L 7.50 1.73 L 10.78 23.20 M 2.50 15.31 L 10.00 15.31"/>
<path transform="translate(802.46,267.30)" d="M 10.50 1.73 L 1.73 1.73 L 1.73 23.20 M 1.73 11.60 L 9.50 11.60"/>
<path transform="translate(815.00,267.30)" d="M 0.00 1.73 L 11.80 1.73 M 5.90 1.73 L 5.90 23.20"/>
<path transform="translate(342.50,329.80)" d="M 10.50 1.73 L 1.73 1.73 L 1.73 23.20 M 1.73 11.60 L 9.50 11.60"/>
<path transform="translate(357.16,329.80)" d="M 3.03 1.73 L 7.78 1.73 Q 9.08 1.73 9.08 3.03 L 9.08 20.17 Q 9.08 21.47 7.78 21.47 L 3.03 21.47 Q 1.73 21.47 1.73 20.17 L 1.73 3.03 Q 1.73 1.73 3.03 1.73 Z"/>
<path transform="translate(372.12,329.80)" d="M 1.73 0.00 L 1.73 21.47 L 9.30 21.47"/>
<path transform="translate(385.58,329.80)" d="M 1.73 1.73 L 7.78 1.73 Q 9.08 1.73 9.08 3.03 L 9.08 20.17 Q 9.08 21.47 7.78 21.47 L 1.73 21.47 Z"/>
<path transform="translate(400.54,329.80)" d="M 1.73 0.00 L 1.73 23.20"/>
<path transform="translate(408.35,329.80)" d="M 1.73 23.20 L 1.73 1.73 L 9.88 21.47 L 9.88 0.00"/>
<path transform="translate(424.10,329.80)" d="M 9.08 7.19 L 9.08 3.03 Q 9.08 1.73 7.78 1.73 L 3.03 1.73 Q 1.73 1.73 1.73 3.03 L 1.73 20.17 Q 1.73 21.47 3.03 21.47 L 7.78 21.47 Q 9.08 21.47 9.08 20.17 L 9.08 11.60 L 5.40 11.60"/>
<path transform="translate(444.72,329.80)" d="M 1.73 0.00 L 1.73 21.47 L 9.30 21.47"/>
<path transform="translate(458.18,329.80)" d="M 3.03 1.73 L 7.78 1.73 Q 9.08 1.73 9.08 3.03 L 9.08 20.17 Q 9.08 21.47 7.78 21.47 L 3.03 21.47 Q 1.73 21.47 1.73 20.17 L 1.73 3.03 Q 1.73 1.73 3.03 1.73 Z"/>
<path transform="translate(473.14,329.80)" d="M 9.28 7.19 L 9.28 3.03 Q 9.28 1.73 7.98 1.73 L 3.03 1.73 Q 1.73 1.73 1.73 3.03 L 1.73 20.17 Q 1.73 21.47 3.03 21.47 L 7.98 21.47 Q 9.28 21.47 9.28 20.17 L 9.28 16.01"/>
<path transform="translate(488.30,329.80)" d="M 1.73 0.00 L 1.73 23.20 M 10.28 0.00 L 2.53 13.92 M 4.33 10.21 L 10.28 23.20"/>
<path transform="translate(532.50,341.30)" d="M 1.73 23.20 L 1.73 1.73 L 7.75 17.17 L 13.78 1.73 L 13.78 23.20"/>
<path transform="translate(551.79,341.30)" d="M 1.73 23.20 L 5.00 1.73 L 7.50 1.73 L 10.78 23.20 M 2.50 15.31 L 10.00 15.31"/>
<path transform="translate(568.09,341.30)" d="M 1.73 0.00 L 1.73 23.20"/>
<path transform="translate(576.13,341.30)" d="M 1.73 23.20 L 1.73 1.73 L 9.88 21.47 L 9.88 0.00"/>
<path transform="translate(598.02,341.30)" d="M 1.73 0.00 L 1.73 23.20 M 10.08 0.00 L 10.08 23.20 M 1.73 11.60 L 10.08 11.60"/>
<path transform="translate(613.62,341.30)" d="M 1.73 23.20 L 5.00 1.73 L 7.50 1.73 L 10.78 23.20 M 2.50 15.31 L 10.00 15.31"/>
<path transform="translate(629.91,341.30)" d="M 1.73 23.20 L 1.73 1.73 L 9.88 21.47 L 9.88 0.00"/>
<path transform="translate(645.91,341.30)" d="M 1.73 1.73 L 7.78 1.73 Q 9.08 1.73 9.08 3.03 L 9.08 20.17 Q 9.08 21.47 7.78 21.47 L 1.73 21.47 Z"/>
<path transform="translate(661.10,341.30)" d="M 1.73 0.00 L 1.73 21.47 L 9.30 21.47"/>
<path transform="translate(674.80,341.30)" d="M 10.00 1.73 L 1.73 1.73 L 1.73 21.47 L 10.00 21.47 M 1.73 11.60 L 9.40 11.60"/>
<path transform="translate(128.00,467.30)" d="M 1.73 23.20 L 1.73 1.73 L 7.75 17.17 L 13.78 1.73 L 13.78 23.20"/>
<path transform="translate(147.95,467.30)" d="M 3.03 1.73 L 7.78 1.73 Q 9.08 1.73 9.08 3.03 L 9.08 20.17 Q 9.08 21.47 7.78 21.47 L 3.03 21.47 Q 1.73 21.47 1.73 20.17 L 1.73 3.03 Q 1.73 1.73 3.03 1.73 Z"/>
<path transform="translate(161.41,467.30)" d="M 0.00 1.73 L 11.80 1.73 M 5.90 1.73 L 5.90 23.20"/>
<path transform="translate(175.86,467.30)" d="M 3.03 1.73 L 7.78 1.73 Q 9.08 1.73 9.08 3.03 L 9.08 20.17 Q 9.08 21.47 7.78 21.47 L 3.03 21.47 Q 1.73 21.47 1.73 20.17 L 1.73 3.03 Q 1.73 1.73 3.03 1.73 Z"/>
<path transform="translate(191.12,467.30)" d="M 1.73 23.20 L 1.73 1.73 L 9.28 1.73 Q 10.58 1.73 10.58 3.03 L 10.58 10.30 Q 10.58 11.60 9.28 11.60 L 1.73 11.60 M 8.38 11.60 L 10.58 23.20"/>
<path transform="translate(213.82,467.30)" d="M 1.73 0.00 L 1.73 23.20 M 10.08 0.00 L 10.08 23.20 M 1.73 11.60 L 10.08 11.60"/>
<path transform="translate(230.08,467.30)" d="M 3.03 1.73 L 7.78 1.73 Q 9.08 1.73 9.08 3.03 L 9.08 20.17 Q 9.08 21.47 7.78 21.47 L 3.03 21.47 Q 1.73 21.47 1.73 20.17 L 1.73 3.03 Q 1.73 1.73 3.03 1.73 Z"/>
<path transform="translate(245.33,467.30)" d="M 1.73 0.00 L 1.73 20.17 Q 1.73 21.47 3.03 21.47 L 7.78 21.47 Q 9.08 21.47 9.08 20.17 L 9.08 0.00"/>
<path transform="translate(260.59,467.30)" d="M 9.08 6.73 L 9.08 3.03 Q 9.08 1.73 7.78 1.73 L 3.03 1.73 Q 1.73 1.73 1.73 3.03 L 1.73 10.30 Q 1.73 11.60 3.03 11.60 L 7.78 11.60 Q 9.08 11.60 9.08 12.90 L 9.08 20.17 Q 9.08 21.47 7.78 21.47 L 3.03 21.47 Q 1.73 21.47 1.73 20.17 L 1.73 16.47"/>
<path transform="translate(275.84,467.30)" d="M 1.73 0.00 L 1.73 23.20"/>
<path transform="translate(283.95,467.30)" d="M 1.73 23.20 L 1.73 1.73 L 9.88 21.47 L 9.88 0.00"/>
<path transform="translate(300.00,467.30)" d="M 9.08 7.19 L 9.08 3.03 Q 9.08 1.73 7.78 1.73 L 3.03 1.73 Q 1.73 1.73 1.73 3.03 L 1.73 20.17 Q 1.73 21.47 3.03 21.47 L 7.78 21.47 Q 9.08 21.47 9.08 20.17 L 9.08 11.60 L 5.40 11.60"/>
<path class="thin" transform="translate(130.00,503.05)" d="M 8.00 -5.80 C 1.33 -1.50 1.33 24.70 8.00 29.00"/>
<path transform="translate(139.87,503.05)" d="M 9.08 6.73 L 9.08 3.03 Q 9.08 1.73 7.78 1.73 L 3.03 1.73 Q 1.73 1.73 1.73 3.03 L 1.73 10.30 Q 1.73 11.60 3.03 11.60 L 7.78 11.60 Q 9.08 11.60 9.08 12.90 L 9.08 20.17 Q 9.08 21.47 7.78 21.47 L 3.03 21.47 Q 1.73 21.47 1.73 20.17 L 1.73 16.47"/>
<path transform="translate(154.75,503.05)" d="M 10.00 1.73 L 1.73 1.73 L 1.73 21.47 L 10.00 21.47 M 1.73 11.60 L 9.40 11.60"/>
<path transform="translate(168.82,503.05)" d="M 1.73 0.00 L 1.73 21.47 L 9.30 21.47"/>
<path transform="translate(182.19,503.05)" d="M 10.50 1.73 L 1.73 1.73 L 1.73 23.20 M 1.73 11.60 L 9.50 11.60"/>
<path transform="translate(196.77,503.05)" d="M 0.30 12.40 L 8.50 12.40"/>
<path transform="translate(209.64,503.05)" d="M 9.08 6.73 L 9.08 3.03 Q 9.08 1.73 7.78 1.73 L 3.03 1.73 Q 1.73 1.73 1.73 3.03 L 1.73 10.30 Q 1.73 11.60 3.03 11.60 L 7.78 11.60 Q 9.08 11.60 9.08 12.90 L 9.08 20.17 Q 9.08 21.47 7.78 21.47 L 3.03 21.47 Q 1.73 21.47 1.73 20.17 L 1.73 16.47"/>
<path transform="translate(224.51,503.05)" d="M 1.73 0.00 L 1.73 20.17 Q 1.73 21.47 3.03 21.47 L 7.78 21.47 Q 9.08 21.47 9.08 20.17 L 9.08 0.00"/>
<path transform="translate(239.38,503.05)" d="M 9.28 7.19 L 9.28 3.03 Q 9.28 1.73 7.98 1.73 L 3.03 1.73 Q 1.73 1.73 1.73 3.03 L 1.73 20.17 Q 1.73 21.47 3.03 21.47 L 7.98 21.47 Q 9.28 21.47 9.28 20.17 L 9.28 16.01"/>
<path transform="translate(252.66,503.05)" d="M 0.00 1.73 L 11.80 1.73 M 5.90 1.73 L 5.90 23.20"/>
<path transform="translate(266.73,503.05)" d="M 1.73 0.00 L 1.73 23.20"/>
<path transform="translate(274.45,503.05)" d="M 3.03 1.73 L 7.78 1.73 Q 9.08 1.73 9.08 3.03 L 9.08 20.17 Q 9.08 21.47 7.78 21.47 L 3.03 21.47 Q 1.73 21.47 1.73 20.17 L 1.73 3.03 Q 1.73 1.73 3.03 1.73 Z"/>
<path transform="translate(289.33,503.05)" d="M 1.73 23.20 L 1.73 1.73 L 9.88 21.47 L 9.88 0.00"/>
<path class="thin" transform="translate(302.20,503.05)" d="M 0.60 -5.80 C 7.28 -1.50 7.28 24.70 0.60 29.00"/>
<path transform="translate(579.00,525.30)" d="M 1.73 1.73 L 7.78 1.73 Q 9.08 1.73 9.08 3.03 L 9.08 20.17 Q 9.08 21.47 7.78 21.47 L 1.73 21.47 Z"/>
<path transform="translate(593.78,525.30)" d="M 1.73 0.00 L 1.73 20.17 Q 1.73 21.47 3.03 21.47 L 7.78 21.47 Q 9.08 21.47 9.08 20.17 L 9.08 0.00"/>
<path transform="translate(608.56,525.30)" d="M 9.08 6.73 L 9.08 3.03 Q 9.08 1.73 7.78 1.73 L 3.03 1.73 Q 1.73 1.73 1.73 3.03 L 1.73 10.30 Q 1.73 11.60 3.03 11.60 L 7.78 11.60 Q 9.08 11.60 9.08 12.90 L 9.08 20.17 Q 9.08 21.47 7.78 21.47 L 3.03 21.47 Q 1.73 21.47 1.73 20.17 L 1.73 16.47"/>
<path transform="translate(621.54,525.30)" d="M 0.00 1.73 L 11.80 1.73 M 5.90 1.73 L 5.90 23.20"/>
<path transform="translate(640.99,525.30)" d="M 10.00 1.73 L 1.73 1.73 L 1.73 21.47 L 10.00 21.47 M 1.73 11.60 L 9.40 11.60"/>
<path transform="translate(654.97,525.30)" d="M 2.02 0.00 L 10.47 23.20 M 10.47 0.00 L 2.02 23.20"/>
<path transform="translate(669.65,525.30)" d="M 0.00 1.73 L 11.80 1.73 M 5.90 1.73 L 5.90 23.20"/>
<path transform="translate(683.63,525.30)" d="M 1.73 23.20 L 1.73 1.73 L 9.28 1.73 Q 10.58 1.73 10.58 3.03 L 10.58 10.30 Q 10.58 11.60 9.28 11.60 L 1.73 11.60 M 8.38 11.60 L 10.58 23.20"/>
<path transform="translate(699.31,525.30)" d="M 1.73 23.20 L 5.00 1.73 L 7.50 1.73 L 10.78 23.20 M 2.50 15.31 L 10.00 15.31"/>
<path transform="translate(715.19,525.30)" d="M 9.28 7.19 L 9.28 3.03 Q 9.28 1.73 7.98 1.73 L 3.03 1.73 Q 1.73 1.73 1.73 3.03 L 1.73 20.17 Q 1.73 21.47 3.03 21.47 L 7.98 21.47 Q 9.28 21.47 9.28 20.17 L 9.28 16.01"/>
<path transform="translate(728.36,525.30)" d="M 0.00 1.73 L 11.80 1.73 M 5.90 1.73 L 5.90 23.20"/>
<path transform="translate(742.34,525.30)" d="M 1.73 0.00 L 1.73 23.20"/>
<path transform="translate(749.97,525.30)" d="M 3.03 1.73 L 7.78 1.73 Q 9.08 1.73 9.08 3.03 L 9.08 20.17 Q 9.08 21.47 7.78 21.47 L 3.03 21.47 Q 1.73 21.47 1.73 20.17 L 1.73 3.03 Q 1.73 1.73 3.03 1.73 Z"/>
<path transform="translate(764.75,525.30)" d="M 1.73 23.20 L 1.73 1.73 L 9.88 21.47 L 9.88 0.00"/>
<path transform="translate(785.81,525.30)" d="M 3.03 1.73 L 7.78 1.73 Q 9.08 1.73 9.08 3.03 L 9.08 20.17 Q 9.08 21.47 7.78 21.47 L 3.03 21.47 Q 1.73 21.47 1.73 20.17 L 1.73 3.03 Q 1.73 1.73 3.03 1.73 Z"/>
<path transform="translate(800.59,525.30)" d="M 1.73 0.00 L 1.73 20.17 Q 1.73 21.47 3.03 21.47 L 7.78 21.47 Q 9.08 21.47 9.08 20.17 L 9.08 0.00"/>
<path transform="translate(813.56,525.30)" d="M 0.00 1.73 L 11.80 1.73 M 5.90 1.73 L 5.90 23.20"/>
<path transform="translate(827.54,525.30)" d="M 1.73 0.00 L 1.73 21.47 L 9.30 21.47"/>
<path transform="translate(840.82,525.30)" d="M 10.00 1.73 L 1.73 1.73 L 1.73 21.47 L 10.00 21.47 M 1.73 11.60 L 9.40 11.60"/>
<path transform="translate(853.00,525.30)" d="M 0.00 1.73 L 11.80 1.73 M 5.90 1.73 L 5.90 23.20"/>
<path class="thin" transform="translate(591.00,560.90)" d="M 8.00 -5.80 C 1.33 -1.50 1.33 24.70 8.00 29.00"/>
<path transform="translate(600.70,560.90)" d="M 1.73 0.00 L 5.46 21.47 L 9.75 8.35 L 14.04 21.47 L 17.77 0.00"/>
<path transform="translate(624.09,560.90)" d="M 1.73 0.00 L 1.73 23.20"/>
<path transform="translate(629.84,560.90)" d="M 0.00 1.73 L 11.80 1.73 M 5.90 1.73 L 5.90 23.20"/>
<path transform="translate(643.73,560.90)" d="M 1.73 0.00 L 1.73 23.20 M 10.08 0.00 L 10.08 23.20 M 1.73 11.60 L 10.08 11.60"/>
<path transform="translate(664.82,560.90)" d="M 1.73 0.00 L 1.73 21.47 L 9.30 21.47"/>
<path transform="translate(678.02,560.90)" d="M 3.03 1.73 L 7.78 1.73 Q 9.08 1.73 9.08 3.03 L 9.08 20.17 Q 9.08 21.47 7.78 21.47 L 3.03 21.47 Q 1.73 21.47 1.73 20.17 L 1.73 3.03 Q 1.73 1.73 3.03 1.73 Z"/>
<path transform="translate(692.71,560.90)" d="M 9.28 7.19 L 9.28 3.03 Q 9.28 1.73 7.98 1.73 L 3.03 1.73 Q 1.73 1.73 1.73 3.03 L 1.73 20.17 Q 1.73 21.47 3.03 21.47 L 7.98 21.47 Q 9.28 21.47 9.28 20.17 L 9.28 16.01"/>
<path transform="translate(707.61,560.90)" d="M 1.73 0.00 L 1.73 23.20 M 10.28 0.00 L 2.53 13.92 M 4.33 10.21 L 10.28 23.20"/>
<path transform="translate(723.50,560.90)" d="M 1.73 0.00 L 1.73 23.20"/>
<path transform="translate(731.05,560.90)" d="M 1.73 23.20 L 1.73 1.73 L 9.88 21.47 L 9.88 0.00"/>
<path transform="translate(746.54,560.90)" d="M 9.08 7.19 L 9.08 3.03 Q 9.08 1.73 7.78 1.73 L 3.03 1.73 Q 1.73 1.73 1.73 3.03 L 1.73 20.17 Q 1.73 21.47 3.03 21.47 L 7.78 21.47 Q 9.08 21.47 9.08 20.17 L 9.08 11.60 L 5.40 11.60"/>
<path transform="translate(766.63,560.90)" d="M 9.08 6.73 L 9.08 3.03 Q 9.08 1.73 7.78 1.73 L 3.03 1.73 Q 1.73 1.73 1.73 3.03 L 1.73 10.30 Q 1.73 11.60 3.03 11.60 L 7.78 11.60 Q 9.08 11.60 9.08 12.90 L 9.08 20.17 Q 9.08 21.47 7.78 21.47 L 3.03 21.47 Q 1.73 21.47 1.73 20.17 L 1.73 16.47"/>
<path transform="translate(781.33,560.90)" d="M 1.73 0.00 L 1.73 21.47 L 9.30 21.47"/>
<path transform="translate(794.52,560.90)" d="M 10.00 1.73 L 1.73 1.73 L 1.73 21.47 L 10.00 21.47 M 1.73 11.60 L 9.40 11.60"/>
<path transform="translate(808.42,560.90)" d="M 10.00 1.73 L 1.73 1.73 L 1.73 21.47 L 10.00 21.47 M 1.73 11.60 L 9.40 11.60"/>
<path transform="translate(822.31,560.90)" d="M 1.93 0.00 L 5.50 21.47 L 7.50 21.47 L 11.08 0.00"/>
<path transform="translate(838.61,560.90)" d="M 10.00 1.73 L 1.73 1.73 L 1.73 21.47 L 10.00 21.47 M 1.73 11.60 L 9.40 11.60"/>
<path class="thin" transform="translate(849.70,560.90)" d="M 0.60 -5.80 C 7.28 -1.50 7.28 24.70 0.60 29.00"/>
<path transform="translate(471.70,608.90)" d="M 3.03 1.73 L 7.78 1.73 Q 9.08 1.73 9.08 3.03 L 9.08 20.17 Q 9.08 21.47 7.78 21.47 L 3.03 21.47 Q 1.73 21.47 1.73 20.17 L 1.73 3.03 Q 1.73 1.73 3.03 1.73 Z"/>
<path transform="translate(486.60,608.90)" d="M 1.73 23.20 L 1.73 1.73 L 9.88 21.47 L 9.88 0.00"/>
<path class="thin" transform="translate(500.31,608.90)" d="M 12.28 -2.50 L 1.73 26.20"/>
<path transform="translate(523.02,608.90)" d="M 3.03 1.73 L 7.78 1.73 Q 9.08 1.73 9.08 3.03 L 9.08 20.17 Q 9.08 21.47 7.78 21.47 L 3.03 21.47 Q 1.73 21.47 1.73 20.17 L 1.73 3.03 Q 1.73 1.73 3.03 1.73 Z"/>
<path transform="translate(537.92,608.90)" d="M 10.50 1.73 L 1.73 1.73 L 1.73 23.20 M 1.73 11.60 L 9.50 11.60"/>
<path transform="translate(552.52,608.90)" d="M 10.50 1.73 L 1.73 1.73 L 1.73 23.20 M 1.73 11.60 L 9.50 11.60"/>
<path transform="translate(572.73,608.90)" d="M 9.08 6.73 L 9.08 3.03 Q 9.08 1.73 7.78 1.73 L 3.03 1.73 Q 1.73 1.73 1.73 3.03 L 1.73 10.30 Q 1.73 11.60 3.03 11.60 L 7.78 11.60 Q 9.08 11.60 9.08 12.90 L 9.08 20.17 Q 9.08 21.47 7.78 21.47 L 3.03 21.47 Q 1.73 21.47 1.73 20.17 L 1.73 16.47"/>
<path transform="translate(587.63,608.90)" d="M 1.73 0.00 L 5.46 21.47 L 9.75 8.35 L 14.04 21.47 L 17.77 0.00"/>
<path transform="translate(611.24,608.90)" d="M 1.73 0.00 L 1.73 23.20"/>
<path transform="translate(617.19,608.90)" d="M 0.00 1.73 L 11.80 1.73 M 5.90 1.73 L 5.90 23.20"/>
<path transform="translate(631.30,608.90)" d="M 9.28 7.19 L 9.28 3.03 Q 9.28 1.73 7.98 1.73 L 3.03 1.73 Q 1.73 1.73 1.73 3.03 L 1.73 20.17 Q 1.73 21.47 3.03 21.47 L 7.98 21.47 Q 9.28 21.47 9.28 20.17 L 9.28 16.01"/>
<path transform="translate(646.40,608.90)" d="M 1.73 0.00 L 1.73 23.20 M 10.08 0.00 L 10.08 23.20 M 1.73 11.60 L 10.08 11.60"/>
<path transform="translate(354.00,760.10)" d="M 9.08 6.73 L 9.08 3.03 Q 9.08 1.73 7.78 1.73 L 3.03 1.73 Q 1.73 1.73 1.73 3.03 L 1.73 10.30 Q 1.73 11.60 3.03 11.60 L 7.78 11.60 Q 9.08 11.60 9.08 12.90 L 9.08 20.17 Q 9.08 21.47 7.78 21.47 L 3.03 21.47 Q 1.73 21.47 1.73 20.17 L 1.73 16.47"/>
<path transform="translate(368.50,760.10)" d="M 1.73 0.00 L 1.73 23.20 M 10.08 0.00 L 10.08 23.20 M 1.73 11.60 L 10.08 11.60"/>
<path transform="translate(383.40,760.10)" d="M 1.73 23.20 L 5.00 1.73 L 7.50 1.73 L 10.78 23.20 M 2.50 15.31 L 10.00 15.31"/>
<path transform="translate(399.00,760.10)" d="M 10.50 1.73 L 1.73 1.73 L 1.73 23.20 M 1.73 11.60 L 9.50 11.60"/>
<path transform="translate(411.40,760.10)" d="M 0.00 1.73 L 11.80 1.73 M 5.90 1.73 L 5.90 23.20"/>
<path transform="translate(814.00,751.30)" d="M 1.93 0.00 L 5.50 21.47 L 7.50 21.47 L 11.08 0.00"/>
<path transform="translate(828.70,751.30)" d="M 1.73 23.20 L 5.00 1.73 L 7.50 1.73 L 10.78 23.20 M 2.50 15.31 L 10.00 15.31"/>
<path transform="translate(845.00,751.30)" d="M 9.28 7.19 L 9.28 3.03 Q 9.28 1.73 7.98 1.73 L 3.03 1.73 Q 1.73 1.73 1.73 3.03 L 1.73 20.17 Q 1.73 21.47 3.03 21.47 L 7.98 21.47 Q 9.28 21.47 9.28 20.17 L 9.28 16.01"/>
<path transform="translate(860.40,751.30)" d="M 1.73 0.00 L 1.73 20.17 Q 1.73 21.47 3.03 21.47 L 7.78 21.47 Q 9.08 21.47 9.08 20.17 L 9.08 0.00"/>
<path transform="translate(875.60,751.30)" d="M 1.73 0.00 L 1.73 20.17 Q 1.73 21.47 3.03 21.47 L 7.78 21.47 Q 9.08 21.47 9.08 20.17 L 9.08 0.00"/>
<path transform="translate(890.80,751.30)" d="M 1.73 23.20 L 1.73 1.73 L 7.75 17.17 L 13.78 1.73 L 13.78 23.20"/>
<path transform="translate(916.60,751.30)" d="M 1.73 0.00 L 1.73 23.20 M 10.08 0.00 L 10.08 23.20 M 1.73 11.60 L 10.08 11.60"/>
<path transform="translate(932.80,751.30)" d="M 3.03 1.73 L 7.78 1.73 Q 9.08 1.73 9.08 3.03 L 9.08 20.17 Q 9.08 21.47 7.78 21.47 L 3.03 21.47 Q 1.73 21.47 1.73 20.17 L 1.73 3.03 Q 1.73 1.73 3.03 1.73 Z"/>
<path transform="translate(948.00,751.30)" d="M 9.08 6.73 L 9.08 3.03 Q 9.08 1.73 7.78 1.73 L 3.03 1.73 Q 1.73 1.73 1.73 3.03 L 1.73 10.30 Q 1.73 11.60 3.03 11.60 L 7.78 11.60 Q 9.08 11.60 9.08 12.90 L 9.08 20.17 Q 9.08 21.47 7.78 21.47 L 3.03 21.47 Q 1.73 21.47 1.73 20.17 L 1.73 16.47"/>
<path transform="translate(963.20,751.30)" d="M 10.00 1.73 L 1.73 1.73 L 1.73 21.47 L 10.00 21.47 M 1.73 11.60 L 9.40 11.60"/>
<path transform="translate(543.00,860.70)" d="M 1.73 1.73 L 7.78 1.73 Q 9.08 1.73 9.08 3.03 L 9.08 20.17 Q 9.08 21.47 7.78 21.47 L 1.73 21.47 Z"/>
<path transform="translate(558.29,860.70)" d="M 1.73 0.00 L 1.73 20.17 Q 1.73 21.47 3.03 21.47 L 7.78 21.47 Q 9.08 21.47 9.08 20.17 L 9.08 0.00"/>
<path transform="translate(573.57,860.70)" d="M 9.08 6.73 L 9.08 3.03 Q 9.08 1.73 7.78 1.73 L 3.03 1.73 Q 1.73 1.73 1.73 3.03 L 1.73 10.30 Q 1.73 11.60 3.03 11.60 L 7.78 11.60 Q 9.08 11.60 9.08 12.90 L 9.08 20.17 Q 9.08 21.47 7.78 21.47 L 3.03 21.47 Q 1.73 21.47 1.73 20.17 L 1.73 16.47"/>
<path transform="translate(587.06,860.70)" d="M 0.00 1.73 L 11.80 1.73 M 5.90 1.73 L 5.90 23.20"/>
<path transform="translate(607.53,860.70)" d="M 1.73 21.47 L 1.73 1.73 L 7.78 1.73 Q 9.08 1.73 9.08 3.03 L 9.08 10.30 Q 9.08 11.60 7.78 11.60 L 1.73 11.60 M 7.78 11.60 Q 9.08 11.60 9.08 12.90 L 9.08 20.17 Q 9.08 21.47 7.78 21.47 L 1.73 21.47"/>
<path transform="translate(622.21,860.70)" d="M 1.73 23.20 L 5.00 1.73 L 7.50 1.73 L 10.78 23.20 M 2.50 15.31 L 10.00 15.31"/>
<path transform="translate(638.60,860.70)" d="M 9.08 7.19 L 9.08 3.03 Q 9.08 1.73 7.78 1.73 L 3.03 1.73 Q 1.73 1.73 1.73 3.03 L 1.73 20.17 Q 1.73 21.47 3.03 21.47 L 7.78 21.47 Q 9.08 21.47 9.08 20.17 L 9.08 11.60 L 5.40 11.60"/>
<path transform="translate(127.50,898.90)" d="M 1.73 0.00 L 1.73 21.47 L 9.30 21.47"/>
<path transform="translate(140.94,898.90)" d="M 10.00 1.73 L 1.73 1.73 L 1.73 21.47 L 10.00 21.47 M 1.73 11.60 L 9.40 11.60"/>
<path transform="translate(155.09,898.90)" d="M 1.73 1.73 L 7.78 1.73 Q 9.08 1.73 9.08 3.03 L 9.08 20.17 Q 9.08 21.47 7.78 21.47 L 1.73 21.47 Z"/>
<path transform="translate(175.68,898.90)" d="M 1.73 0.00 L 1.73 21.47 L 9.30 21.47"/>
<path transform="translate(189.12,898.90)" d="M 1.73 0.00 L 1.73 23.20"/>
<path transform="translate(196.91,898.90)" d="M 9.08 7.19 L 9.08 3.03 Q 9.08 1.73 7.78 1.73 L 3.03 1.73 Q 1.73 1.73 1.73 3.03 L 1.73 20.17 Q 1.73 21.47 3.03 21.47 L 7.78 21.47 Q 9.08 21.47 9.08 20.17 L 9.08 11.60 L 5.40 11.60"/>
<path transform="translate(211.86,898.90)" d="M 1.73 0.00 L 1.73 23.20 M 10.08 0.00 L 10.08 23.20 M 1.73 11.60 L 10.08 11.60"/>
<path transform="translate(226.00,898.90)" d="M 0.00 1.73 L 11.80 1.73 M 5.90 1.73 L 5.90 23.20"/>
</g>
</svg>
</body></html>
